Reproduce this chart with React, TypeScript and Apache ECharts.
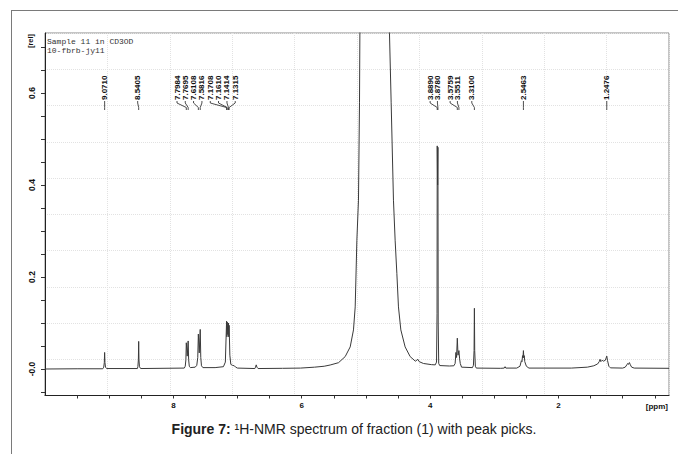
import React, { useEffect, useRef } from "react";
import * as echarts from "echarts";

// ---- data: [ppm, relative intensity] ----
const AROMATIC_REGION: [number, number][] = [
  [10.0, 0.0], [9.5, 0.0005], [9.1, 0.0005], [9.085, 0.004], [9.076, 0.014], [9.071, 0.036],
  [9.066, 0.014], [9.057, 0.004], [9.04, 0.001], [8.56, 0.001], [8.553, 0.005], [8.545, 0.02],
  [8.5405, 0.06], [8.536, 0.02], [8.528, 0.005], [8.51, 0.001], [7.83, 0.002], [7.815, 0.006],
  [7.805, 0.02], [7.7984, 0.057], [7.784, 0.028], [7.7695, 0.061], [7.762, 0.02], [7.752, 0.006],
  [7.735, 0.003], [7.66, 0.004], [7.635, 0.008], [7.62, 0.025], [7.6108, 0.076], [7.597, 0.035],
  [7.5816, 0.086], [7.573, 0.025], [7.562, 0.007], [7.54, 0.003], [7.35, 0.003], [7.22, 0.005],
  [7.19, 0.015], [7.1708, 0.104], [7.166, 0.07], [7.161, 0.102], [7.152, 0.075], [7.1414, 0.1],
  [7.137, 0.07], [7.1315, 0.095], [7.12, 0.03], [7.105, 0.01], [7.08, 0.008], [7.05, 0.007],
  [7.03, 0.004], [7.0, 0.002], [6.73, 0.001], [6.72, 0.004], [6.709, 0.009], [6.698, 0.004],
  [6.68, 0.001], [6.3, 0.0015], [6.02, 0.002], [5.8, 0.004], [5.65, 0.006],
];
const WATER_REGION: [number, number][] = [
  [5.557, 0.0087], [5.427, 0.0137], [5.323, 0.027], [5.245, 0.048], [5.194, 0.085], [5.167, 0.135],
  [5.141, 0.28], [5.116, 0.367], [5.1, 0.58], [5.094, 0.73], [5.08, 1.1], [5.05, 1.8], [4.87, 4.0],
  [4.68, 1.8], [4.645, 1.1], [4.633, 0.73], [4.607, 0.58], [4.571, 0.367], [4.545, 0.28],
  [4.518, 0.208], [4.493, 0.135], [4.456, 0.085], [4.389, 0.048], [4.311, 0.027], [4.23, 0.017],
  [4.19, 0.021], [4.17, 0.016], [4.104, 0.012], [3.98, 0.0095], [3.92, 0.009],
];
const ALIPHATIC_REGION: [number, number][] = [
  [3.9, 0.015], [3.892, 0.12], [3.889, 0.485], [3.883, 0.4], [3.878, 0.482], [3.874, 0.1],
  [3.866, 0.012], [3.85, 0.0075], [3.7, 0.0065], [3.63, 0.007], [3.61, 0.012], [3.598, 0.036],
  [3.588, 0.025], [3.5759, 0.067], [3.565, 0.03], [3.5511, 0.04], [3.54, 0.022], [3.53, 0.012],
  [3.51, 0.004], [3.34, 0.003], [3.325, 0.008], [3.315, 0.04], [3.31, 0.132], [3.305, 0.04],
  [3.295, 0.006], [3.28, 0.002], [2.9, 0.0015], [2.845, 0.002], [2.832, 0.005], [2.82, 0.002],
  [2.65, 0.002], [2.6, 0.006], [2.578, 0.018], [2.568, 0.016], [2.56, 0.029], [2.553, 0.024],
  [2.5463, 0.04], [2.54, 0.025], [2.533, 0.029], [2.525, 0.016], [2.515, 0.016], [2.5, 0.006],
  [2.46, 0.002], [1.8, 0.002], [1.55, 0.004], [1.45, 0.007], [1.39, 0.011], [1.365, 0.016],
  [1.352, 0.021], [1.34, 0.016], [1.32, 0.019], [1.3, 0.017], [1.27, 0.019], [1.2476, 0.028],
  [1.235, 0.018], [1.215, 0.006], [1.19, 0.0025], [1.0, 0.002], [0.96, 0.004], [0.935, 0.009],
  [0.922, 0.012], [0.91, 0.01], [0.895, 0.014], [0.88, 0.009], [0.86, 0.004], [0.82, 0.002],
  [0.278, 0.0015],
];

const PICK_PPM = [
  9.071, 8.5405, 7.7984, 7.7695, 7.6108, 7.5816, 7.1708, 7.161, 7.1414, 7.1315,
  3.889, 3.878, 3.5759, 3.5511, 3.31, 2.5463, 1.2476,
];
const Y_TICK_VALUES = [-0.05, 0, 0.05, 0.1, 0.15, 0.2, 0.25, 0.3, 0.35, 0.4, 0.45, 0.5, 0.55, 0.6, 0.65, 0.7];
const Y_LABEL_VALUES = [0, 0.2, 0.4, 0.6];
const X_TICK_VALUES = [0.5, 1, 1.5, 2, 2.5, 3, 3.5, 4, 4.5, 5, 5.5, 6, 6.5, 7, 7.5, 8, 8.5, 9, 9.5];
const X_LABEL_VALUES = [2, 4, 6, 8];

// ---- layout (not data) ----
const LABEL_SHIFT_PX = [0, -1, -9.3, -2.9, -4.8, 1.7, -16.3, -8.7, -1.5, 6.1, -7.1, -0.5, -7.2, -1.5, -2.6, 0, 0];
const SANS = '"Liberation Sans", Arial, sans-serif';

export default function App() {
  const ref = useRef<HTMLDivElement>(null);

  useEffect(() => {
    if (!ref.current) return;
    const chart = echarts.init(ref.current, undefined, { renderer: "svg" });
    const spectrum = [...AROMATIC_REGION, ...WATER_REGION, ...ALIPHATIC_REGION];
    const picks = PICK_PPM.map((v, i) => [v, 0, LABEL_SHIFT_PX[i]]);

    const option: any = {
      animation: false,
      backgroundColor: "#fff",
      grid: {
        left: 45, right: 9, top: 33, bottom: 58.5,
        show: true, borderColor: "#8a8a8a", borderWidth: 1,
        containLabel: false, outerBoundsMode: "none",
      },
      xAxis: [
        {
          type: "value", inverse: true, min: 0.278, max: 10,
          axisLine: { show: true, onZero: false, lineStyle: { color: "#222", width: 1 } },
          axisTick: { show: true, inside: false, length: 3, customValues: X_TICK_VALUES, lineStyle: { color: "#333" } },
          axisLabel: {
            show: true, margin: 6, fontSize: 8, fontWeight: "bold", fontFamily: SANS, color: "#111",
            customValues: X_LABEL_VALUES,
            formatter: (v: number) => String(Math.round(v)),
          },
          splitLine: { show: false },
        },
        {
          type: "value", min: 0, max: 10, interval: 1, position: "top",
          axisLine: { show: false }, axisTick: { show: false }, axisLabel: { show: false },
          splitLine: { show: true, lineStyle: { type: "dotted", color: "#e2e2e2", width: 1 } },
        },
      ],
      yAxis: [
        {
          type: "value", min: -0.0576, max: 0.7304,
          axisLine: { show: true, onZero: false, lineStyle: { color: "#222", width: 1 } },
          axisTick: { show: true, inside: false, length: 4, customValues: Y_TICK_VALUES, lineStyle: { color: "#333" } },
          axisLabel: {
            show: true, rotate: 90, margin: 9, fontSize: 8.5, fontWeight: "bold", fontFamily: SANS, color: "#111",
            customValues: Y_LABEL_VALUES,
            formatter: (v: number) => (Math.abs(v) < 1e-9 ? "-0.0" : v.toFixed(1)),
          },
          splitLine: { show: false },
        },
        {
          type: "value", min: 0, max: 10, interval: 1, position: "right",
          axisLine: { show: false }, axisTick: { show: false }, axisLabel: { show: false },
          splitLine: { show: true, lineStyle: { type: "dotted", color: "#e2e2e2", width: 1 } },
        },
      ],
      series: [
        {
          type: "line",
          xAxisIndex: 0, yAxisIndex: 0,
          data: spectrum,
          showSymbol: false,
          symbol: "none",
          clip: true,
          lineStyle: { color: "#3a3a3a", width: 1 },
          silent: true,
        },
        {
          type: "custom",
          xAxisIndex: 0, yAxisIndex: 0,
          data: picks,
          encode: { x: 0, y: 1 },
          silent: true,
          renderItem: (params: any, api: any) => {
            const ppm = api.value(0);
            const shift = api.value(2);
            const px = api.coord([ppm, 0])[0];
            const lx = px + shift;
            return {
              type: "group",
              children: [
                {
                  type: "polyline",
                  shape: { points: [[lx, 101], [lx, 103], [px, 107.5], [px, 110]] },
                  style: { stroke: "#222", lineWidth: 0.8, fill: null },
                },
                {
                  type: "text",
                  x: lx, y: 100, rotation: Math.PI / 2,
                  style: {
                    text: PICK_PPM[params.dataIndex].toFixed(4),
                    fontSize: 8, fontWeight: "bold", fontFamily: SANS, fill: "#111",
                    align: "left", verticalAlign: "middle",
                  },
                },
              ],
            };
          },
        },
      ],
      graphic: [
        { type: "line", shape: { x1: 11, y1: 10.5, x2: 678, y2: 10.5 }, style: { stroke: "#7a7a7a", lineWidth: 1 } },
        { type: "line", shape: { x1: 11.5, y1: 10, x2: 11.5, y2: 454 }, style: { stroke: "#7a7a7a", lineWidth: 1 } },
        {
          type: "text", x: 47, y: 41.5,
          style: { text: "Sample 11 in CD3OD", fontSize: 8, fontFamily: '"Liberation Mono", "Courier New", monospace', fill: "#333", align: "left", verticalAlign: "middle" },
        },
        {
          type: "text", x: 47, y: 50,
          style: { text: "10-fbrb-jy11", fontSize: 8, fontFamily: '"Liberation Mono", "Courier New", monospace', fill: "#333", align: "left", verticalAlign: "middle" },
        },
        {
          type: "text", x: 30.5, y: 41, rotation: Math.PI / 2,
          style: { text: "[rel]", fontSize: 7.5, fontWeight: "bold", fontFamily: SANS, fill: "#111", align: "center", verticalAlign: "middle" },
        },
        {
          type: "text", x: 668, y: 406.7,
          style: { text: "[ppm]", fontSize: 8, fontWeight: "bold", fontFamily: SANS, fill: "#111", align: "right", verticalAlign: "middle" },
        },
        {
          type: "text", x: 354, y: 429,
          style: {
            text: "{b|Figure 7:} \u00B9H-NMR spectrum of fraction (1) with peak picks.",
            fontSize: 14, fontFamily: SANS, fill: "#222", align: "center", verticalAlign: "middle",
            rich: { b: { fontSize: 14, fontWeight: "bold", fontFamily: SANS, fill: "#222" } },
          },
        },
      ],
    };
    chart.setOption(option);
    return () => chart.dispose();
  }, []);

  return <div ref={ref} style={{ position: "fixed", left: 0, top: 0, width: 678, height: 454 }} />;
}
